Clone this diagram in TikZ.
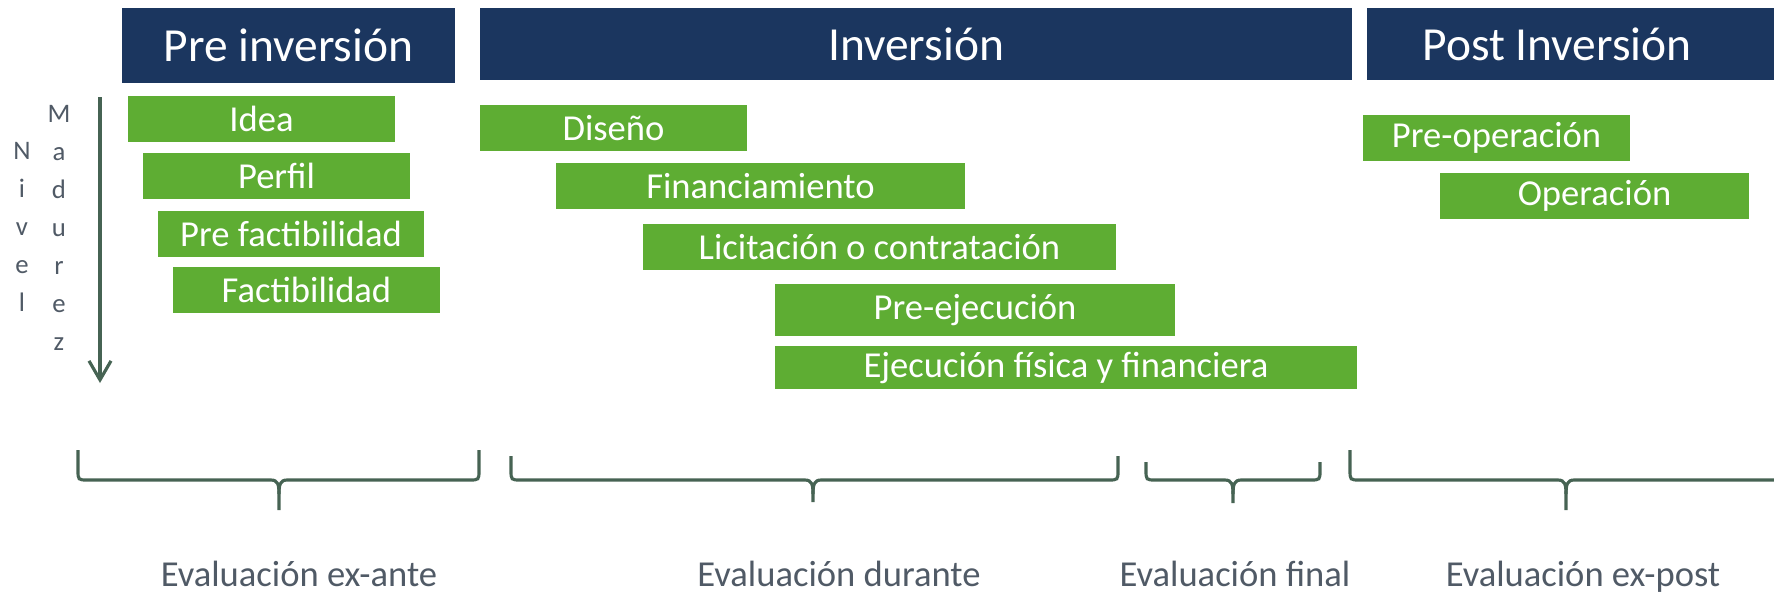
\documentclass[tikz,border=0pt]{standalone}
\usepackage{fontspec}
\setmainfont{Carlito}
\usetikzlibrary{arrows.meta}
\definecolor{azulfase}{HTML}{1B365F}
\definecolor{verdeetapa}{HTML}{5EAD33}
\definecolor{grislinea}{HTML}{466353}
\definecolor{gristexto}{HTML}{505A66}
\tikzstyle{fase}=[rectangle,fill=azulfase,text=white,inner sep=0pt,font=\fontsize{13.5}{15}\selectfont]
\tikzstyle{etapa}=[rectangle,fill=verdeetapa,text=white,inner sep=0pt,minimum height=0.46cm,font=\fontsize{10.4}{12}\selectfont]
\tikzstyle{evalua}=[text=gristexto,inner sep=0pt,anchor=base,font=\fontsize{10.4}{12}\selectfont]
\tikzstyle{letra}=[text=gristexto,inner sep=0pt,anchor=base,font=\fontsize{7.6}{9}\selectfont]
\tikzstyle{brazo}=[draw=grislinea,line width=0.9pt]
% llave: izquierda, punta, derecha, arriba, abajo
\newcommand{\llave}[5]{%
	\draw [brazo] (#1,#4) -- (#1,470) .. controls (#1,480) .. (#1+10,480) -- (#2-8,480)
		.. controls (#2-1,480) and (#2,485) .. (#2,494) -- (#2,#5);
	\draw [brazo] (#2,494) .. controls (#2,485) and (#2+1,480) .. (#2+8,480) -- (#3-10,480)
		.. controls (#3,480) .. (#3,470) -- (#3,#4);
}

\begin{document}
\begin{tikzpicture}[x=0.01cm,y=-0.01cm]
		\clip (0,0) rectangle (1774,593);
		% fases
		\node [fase, minimum width=3.33cm, minimum height=0.75cm] (preinv) at (288.5,45.5) {Pre inversión};
		\node [fase, minimum width=8.72cm, minimum height=0.72cm] (inv) at (916,44) {Inversión};
		\fill [azulfase] (1367,8) rectangle (1774,80);
		\node [fase, fill=none, minimum width=3.80cm, minimum height=0.72cm] (postinv) at (1557,44) {Post Inversión};
		% etapas
		\node [etapa, minimum width=2.67cm] (idea) at (261.5,119) {Idea};
		\node [etapa, minimum width=2.67cm] (perfil) at (276.5,175.5) {Perfil};
		\node [etapa, minimum width=2.66cm] (prefact) at (291,234) {Pre factibilidad};
		\node [etapa, minimum width=2.67cm] (fact) at (306.5,290) {Factibilidad};
		\node [etapa, minimum width=2.67cm] (diseno) at (613.5,128) {Diseño};
		\node [etapa, minimum width=4.09cm] (financ) at (760.5,186) {Financiamiento};
		\node [etapa, minimum width=4.73cm] (licit) at (879.5,247) {Licitación o contratación};
		\node [etapa, minimum width=4.00cm, minimum height=0.52cm] (preejec) at (975,310) {Pre-ejecución};
		\node [etapa, minimum width=5.82cm, minimum height=0.43cm] (ejec) at (1066,367.5) {Ejecución física y financiera};
		\node [etapa, minimum width=2.67cm] (preop) at (1496.5,138) {Pre-operación};
		\node [etapa, minimum width=3.09cm] (oper) at (1594.5,196) {Operación};
		% nivel de madurez
		\coordinate (tope) at (100,97);
		\coordinate (fondo) at (100,383);
		\draw [brazo, -{Straight Barb[length=1.9mm,width=2.2mm]}] (tope) -- (fondo);
		\foreach \l [count=\i] in {N,i,v,e,l}
			\node [letra] (niv\i) at (22,121+38*\i) {\l};
		\foreach \l [count=\i] in {M,a,d,u,r,e,z}
			\node [letra] (mad\i) at (59,84+38*\i) {\l};
		% evaluaciones
		\llave{78}{279}{479}{450}{510}
		\llave{511}{813}{1118}{456}{502}
		\llave{1146}{1233}{1320}{462}{503}
		\llave{1350}{1566}{1782}{450}{510}
		\node [evalua] (exante) at (299,586) {Evaluación ex-ante};
		\node [evalua] (durante) at (839,586) {Evaluación durante};
		\node [evalua] (final) at (1235,586) {Evaluación final};
		\node [evalua] (expost) at (1583,586) {Evaluación ex-post};
\end{tikzpicture}
\end{document}
